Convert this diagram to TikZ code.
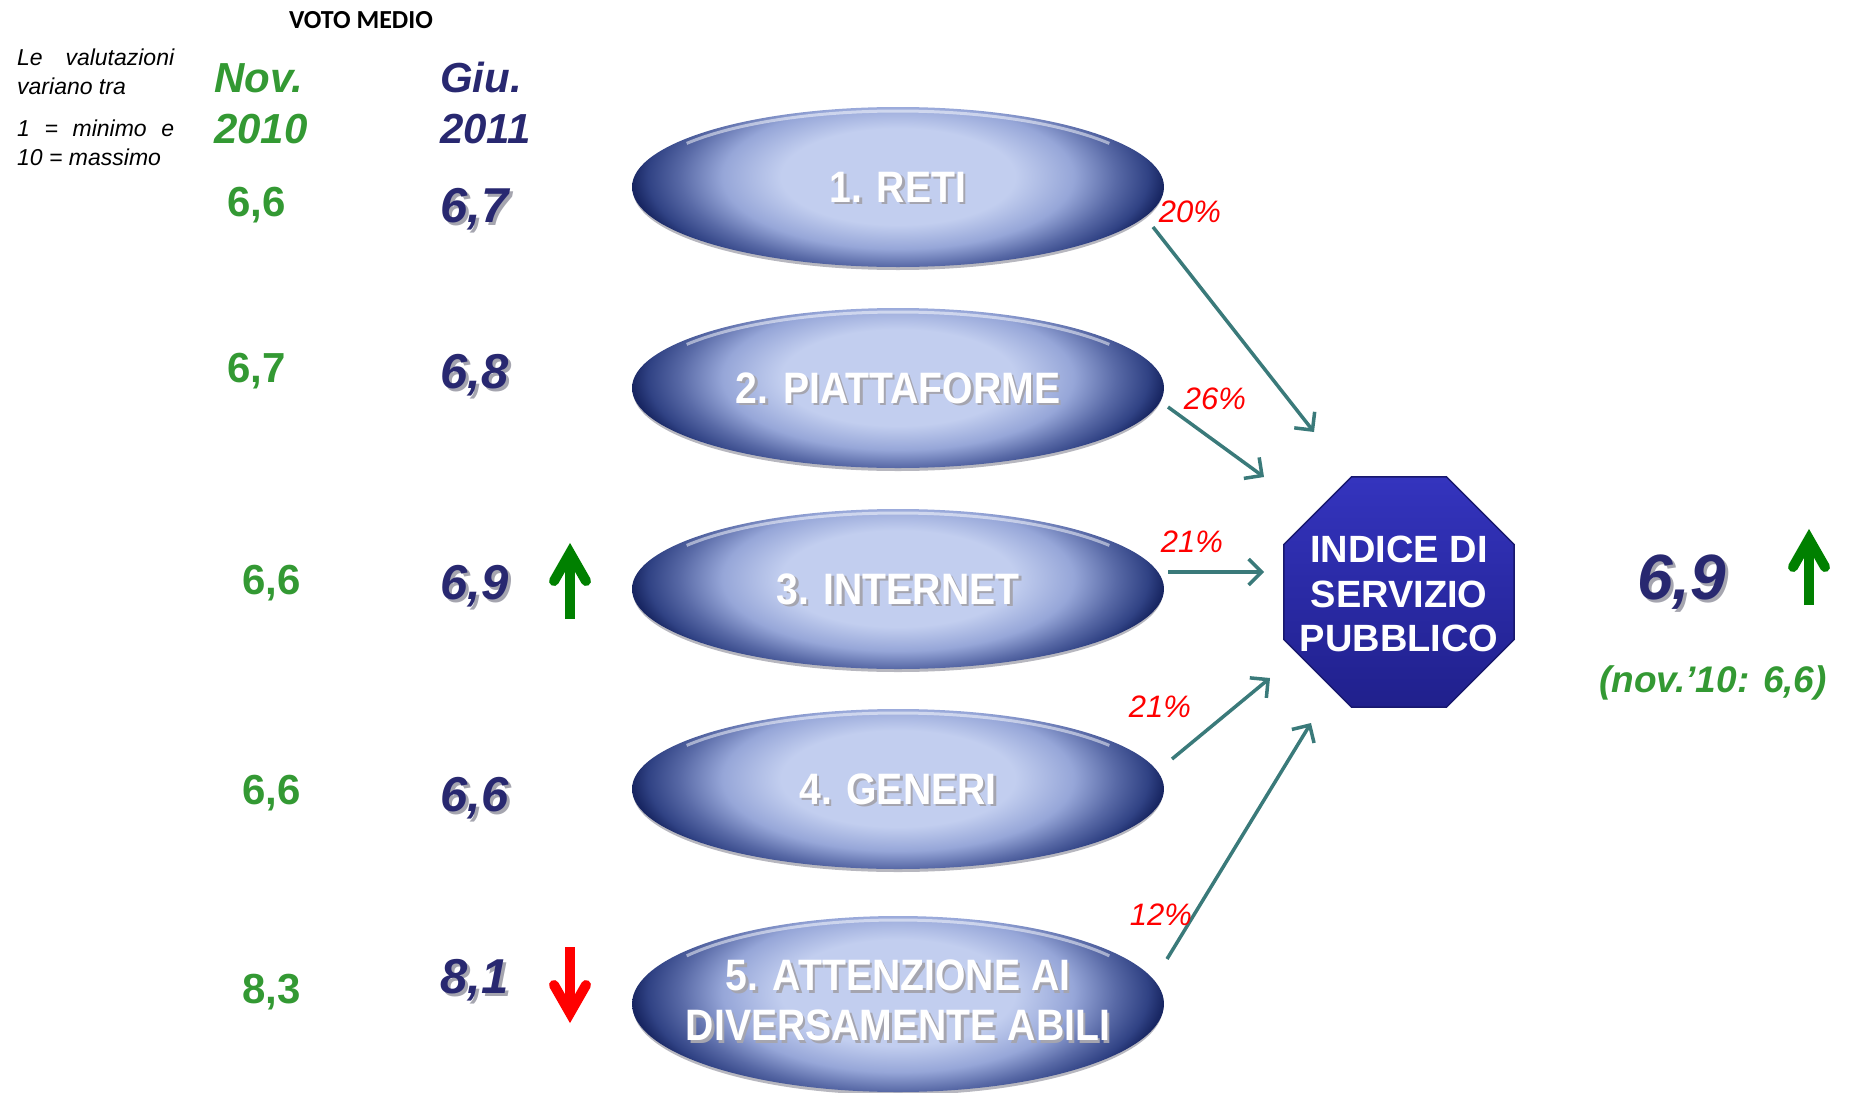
\documentclass[tikz,border=0pt]{standalone}
\usepackage{fontspec}
\setmainfont{Liberation Sans}
\newfontfamily\calibrifont{Carlito}
\usepackage{graphicx}
\usetikzlibrary{shapes.geometric,arrows.meta,calc}

\definecolor{gval}{RGB}{51,153,51}
\definecolor{navytxt}{RGB}{40,40,112}
\definecolor{linkteal}{RGB}{58,122,122}
\definecolor{pctred}{RGB}{255,0,0}
\definecolor{upgreen}{RGB}{0,128,0}
\definecolor{downred}{RGB}{255,0,0}
\definecolor{shadowgray}{RGB}{165,165,175}
\definecolor{ovlight}{RGB}{194,206,239}
\definecolor{ovsoft}{RGB}{150,166,216}
\definecolor{ovmid}{RGB}{88,105,166}
\definecolor{ovdeep}{RGB}{48,66,132}
\definecolor{ovdark}{RGB}{24,38,98}
\definecolor{octtop}{RGB}{52,52,190}
\definecolor{octbot}{RGB}{32,32,140}
\definecolor{octedge}{RGB}{24,24,110}

\pgfdeclareradialshading{ovalshade}{\pgfpoint{0bp}{0bp}}{%
  color(0bp)=(ovlight); color(11bp)=(ovlight); color(16.5bp)=(ovsoft);
  color(20.5bp)=(ovmid); color(23.5bp)=(ovdeep); color(25bp)=(ovdark); color(50bp)=(ovdark)}

\newcommand\setfs[1]{\fontsize{#1}{#1}\selectfont}

\tikzset{
  note/.style={font=\setfs{23}\itshape, anchor=base west, inner sep=0},
  hdrgreen/.style={font=\setfs{42}\bfseries\itshape, text=gval, anchor=base west, inner sep=0},
  hdrnavy/.style={font=\setfs{42}\bfseries\itshape, text=navytxt, anchor=base west, inner sep=0},
  oldval/.style={font=\setfs{42}\bfseries, text=gval, anchor=base west, inner sep=0},
  newval/.style={font=\setfs{49}\bfseries\itshape, text=navytxt, anchor=base west, inner sep=0},
  valshadow/.style={text=shadowgray},
  pct/.style={font=\setfs{31}\itshape, text=pctred, inner sep=0},
  link/.style={draw=linkteal, line width=3.5pt, -{Straight Barb[length=13pt,width=26pt]}},
  % the light core sits a little above the middle; the ends fade to navy
  oval/.style={ellipse, minimum width=532, minimum height=160, inner sep=0,
    path picture={
      \shade[shading=ovalshade]
        ($(path picture bounding box.north west)!-0.25!(path picture bounding box.south west)$)
        rectangle
        ($(path picture bounding box.south east)!-0.12!(path picture bounding box.north east)$);
    }},
  ovalshadow/.style={ellipse, minimum width=530, minimum height=160, inner sep=0, fill=shadowgray!80},
  rim/.style={white, opacity=0.5, line width=3pt},
  ovaltxt/.style={font=\setfs{44}\bfseries, text=white, align=center, inner sep=0},
  octagon/.style={regular polygon, regular polygon sides=8, minimum size=249, inner sep=0,
    top color=octtop, bottom color=octbot, draw=octedge, line width=1.5pt},
  octtxt/.style={font=\fontsize{38}{44.5}\selectfont\bfseries, text=white, align=center, inner sep=0},
  trendarrow/.pic={
    \draw[pic actions, line width=10pt, line cap=butt] (0,76) -- (0,14);
    \draw[pic actions, line width=10pt, line cap=round, line join=miter] (-16,38) -- (0,10) -- (16,38);
  }
}

% oval with drop shadow, top rim light and shadowed white label
\newcommand\ovalbox[6]{% name, x, y, height, label shift, label
  \node[ovalshadow, minimum height=#4] (#1sh) at (#2,#3+3) {};
  \node[oval, minimum height=#4] (#1) at (#2,#3) {};
  \draw[rim] ($(#1)+(215:258 and #4/2-4)$) arc[start angle=215, end angle=325, x radius=258, y radius=#4/2-4];
  \node[ovaltxt, text=shadowgray] (#1ts) at (#2+2.5,#3+#5+2.5) {\scalebox{0.89}[1]{#6}};
  \node[ovaltxt] (#1t) at (#2,#3+#5) {\scalebox{0.89}[1]{#6}};
}

\begin{document}
\begin{tikzpicture}[x=1pt, y=-1pt]
\useasboundingbox (0,0) rectangle (1852,1092);

% header
\node[font=\calibrifont\setfs{26}\bfseries, anchor=base, inner sep=0] (voto) at (361,28) {VOTO MEDIO};

\node[note] (n1) at (17,65) {\makebox[157pt][s]{Le valutazioni}};
\node[note] (n2) at (17,94) {variano tra};
\node[note] (n3) at (17,136) {\makebox[157pt][s]{1 = minimo e}};
\node[note] (n4) at (17,165) {10 = massimo};

\node[hdrgreen] (hn1) at (214,92) {Nov.};
\node[hdrgreen] (hn2) at (214,143) {2010};
\node[hdrnavy] (hg1) at (440,92) {Giu.};
\node[hdrnavy] (hg2) at (440,143) {2011};

% scores of the previous wave
\node[oldval] (o1) at (227,216) {6,6};
\node[oldval] (o2) at (227,382) {6,7};
\node[oldval] (o3) at (242,594) {6,6};
\node[oldval] (o4) at (242,804) {6,6};
\node[oldval] (o5) at (242,1003) {8,3};

% scores of the current wave
\foreach \nm/\yy/\vv in {c1/222/{6,7}, c2/388/{6,8}, c3/599/{6,9}, c4/811/{6,6}, c5/993/{8,1}}{
  \node[newval, valshadow] (\nm s) at (443,\yy+3) {\vv};
  \node[newval] (\nm) at (440,\yy) {\vv};
}

% trend arrows
\pic[draw=upgreen] (tup) at (570,543) {trendarrow};
\pic[draw=downred, rotate=180] (tdown) at (570,1023) {trendarrow};
\pic[draw=upgreen] (tidx) at (1809,529) {trendarrow};

% the five dimensions
\ovalbox{e1}{898}{187}{160}{0}{1. RETI}
\ovalbox{e2}{898}{388}{160}{0}{2. PIATTAFORME}
\ovalbox{e3}{898}{589}{160}{0}{3. INTERNET}
\ovalbox{e4}{898}{789}{160}{0}{4. GENERI}
\ovalbox{e5}{898}{1004}{176}{3}{\begin{tabular}{@{}c@{}}5. ATTENZIONE AI\\[6pt]DIVERSAMENTE ABILI\end{tabular}}

% public service index
\node[octagon] (isp) at (1399,592) {};
\node[octtxt] (ispt) at (1399,594) {INDICE DI\\SERVIZIO\\PUBBLICO};

% weights
\coordinate (s1) at (1153,227); \coordinate (t1) at (1314,432);
\coordinate (s2) at (1168,407); \coordinate (t2) at (1264,477);
\coordinate (s3) at (1168,572); \coordinate (t3) at (1264,572);
\coordinate (s4) at (1172,759); \coordinate (t4) at (1270,678);
\coordinate (s5) at (1167,959); \coordinate (t5) at (1311,723);
\foreach \i in {1,...,5}{ \draw[link] (s\i) -- (t\i); }

\node[pct] (p1) at (1190,212) {20\%};
\node[pct] (p2) at (1215,399) {26\%};
\node[pct] (p3) at (1192,542) {21\%};
\node[pct] (p4) at (1160,707) {21\%};
\node[pct] (p5) at (1161,915) {12\%};

% index value
\node[newval, valshadow, font=\setfs{64}\bfseries\itshape] (idxs) at (1640,602) {6,9};
\node[newval, font=\setfs{64}\bfseries\itshape] (idx) at (1637,599) {6,9};
\node[font=\setfs{37}\bfseries\itshape, text=gval, anchor=base, inner sep=0] (prev) at (1713,692) {(nov.’10: 6,6)};
\end{tikzpicture}
\end{document}
